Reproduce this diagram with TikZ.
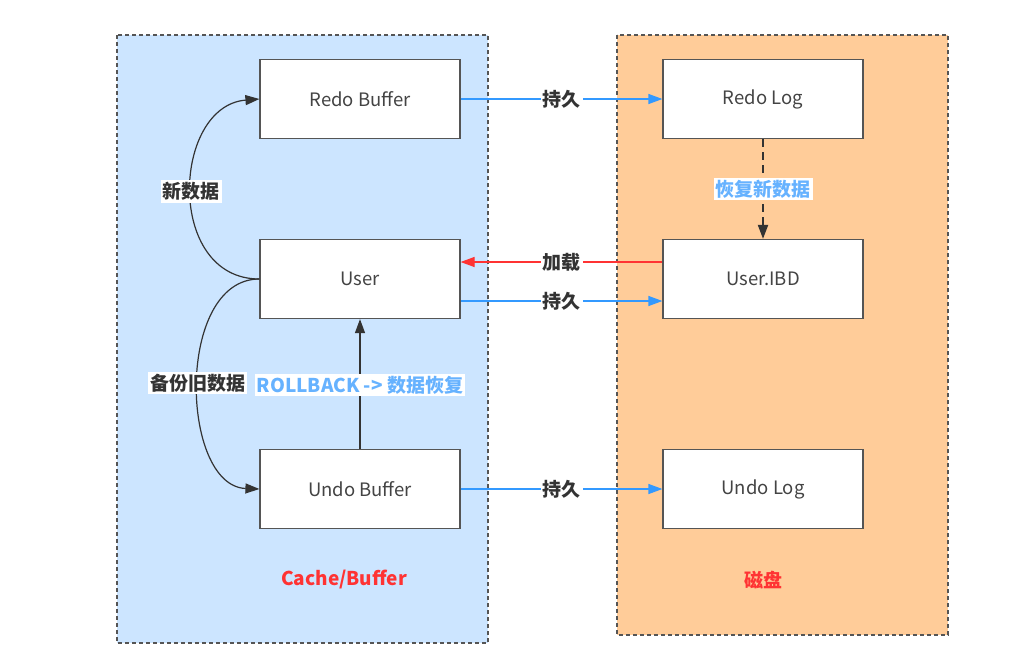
\documentclass[tikz,border=0pt]{standalone}
\usepackage{fontspec}
\setmainfont{Noto Sans CJK SC}
\usetikzlibrary{arrows.meta}
\definecolor{leftfill}{HTML}{CCE5FF}
\definecolor{rightfill}{HTML}{FFCC99}
\definecolor{bluearr}{HTML}{3399FF}
\definecolor{redarr}{HTML}{FF3333}
\definecolor{lightbluetxt}{HTML}{66B2FF}
\definecolor{darktxt}{HTML}{333333}
\definecolor{boxtxt}{HTML}{444444}
\definecolor{bordergray}{HTML}{555555}
\tikzset{
  container/.style={draw=bordergray, line width=1.1pt, dash pattern=on 4pt off 3pt},
  box/.style={draw=bordergray, fill=white, line width=1.2pt, minimum width=200pt, minimum height=79pt, inner sep=0pt, font=\fontsize{18.5}{20}\selectfont, text=boxtxt},
  lbl/.style={fill=white, inner sep=2pt, font=\fontsize{19}{21}\selectfont\bfseries, text=darktxt},
  bluelbl/.style={lbl, text=lightbluetxt},
  tip/.style={-{Triangle[length=14pt,width=10pt]}},
  bluecon/.style={tip, draw=bluearr, line width=1.2pt},
  redcon/.style={tip, draw=redarr, line width=1.2pt},
  darkcon/.style={tip, draw=darktxt, line width=1.2pt},
  title/.style={font=\fontsize{19}{21}\selectfont\bfseries, text=redarr}
}
\begin{document}
\begin{tikzpicture}[x=1pt,y=-1pt]
\useasboundingbox (0,0) rectangle (1031,662);
\fill[white] (0,0) rectangle (1031,662);
% containers
\draw[container, fill=leftfill] (117,35) rectangle (488,643);
\draw[container, fill=rightfill] (617,35) rectangle (948,635);
% boxes
\node[box] (rb) at (360,99) {Redo Buffer};
\node[box] (us) at (360,279) {User};
\node[box] (ub) at (360,489) {Undo Buffer};
\node[box] (rl) at (763,99) {Redo Log};
\node[box] (ib) at (763,279) {User.IBD};
\node[box] (ul) at (763,489) {Undo Log};
% titles
\node[title] (t1) at (344,580) {Cache/Buffer};
\node[title] (t2) at (763,580) {磁盘};
% horizontal connectors
\draw[bluecon] (rb.east) -- node[lbl] {持久} (rl.west);
\draw[redcon] (ib.west |- 0,262) coordinate (ibr) -- node[lbl] {加载} (us.east |- ibr);
\draw[bluecon] (us.east |- 0,301) coordinate (usb) -- node[lbl] {持久} (ib.west |- usb);
\draw[bluecon] (ub.east) -- node[lbl] {持久} (ul.west);
% vertical connectors
\draw[tip, draw=darktxt, line width=2pt, dash pattern=on 8pt off 5pt] (rl.south) -- node[bluelbl] {恢复新数据} (ib.north);
\draw[darkcon] (ub.north) -- node[bluelbl, pos=0.49] {ROLLBACK -> 数据恢复} (us.south);
% curves
\draw[darkcon] (us.west) .. controls (165,279) and (172,106) .. node[lbl, pos=0.5] {新数据} (rb.west);
\draw[darkcon] (us.west) .. controls (175,279) and (180,486) .. node[lbl, pos=0.5] {备份旧数据} (ub.west);
\end{tikzpicture}
\end{document}
